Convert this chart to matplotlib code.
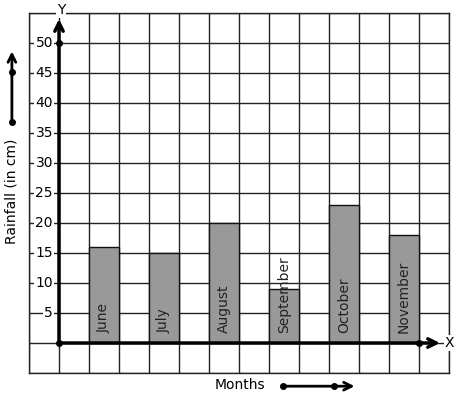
import matplotlib
matplotlib.use("Agg")
import matplotlib.pyplot as plt

# rainfall per month (cm)
months = ["June", "July", "August", "September", "October", "November"]
rainfall = [16, 15, 20, 9, 23, 18]
bar_left = [1, 3, 5, 7, 9, 11]
y_ticks = [5, 10, 15, 20, 25, 30, 35, 40, 45, 50]

fig = plt.figure(figsize=(4.57, 3.99), dpi=100)
ax = fig.add_axes([29 / 457, 26 / 399, 420 / 457, 360 / 399])
ax.set_xlim(-1, 13)
ax.set_ylim(-5, 55)

# square grid
ax.set_xticks(range(-1, 14))
ax.set_yticks(range(-5, 56, 5))
ax.grid(True, color="#222222", linewidth=1)
ax.tick_params(length=0, labelbottom=False, labelleft=False)
for s in ax.spines.values():
    s.set_color("#222222")
    s.set_linewidth(1)

# bars
ax.bar(bar_left, rainfall, width=1, align="edge", color="#999999",
       edgecolor="#111111", linewidth=1, zorder=3)
for x, m in zip(bar_left, months):
    ax.text(x + 0.5, 1.6, m, rotation=90, ha="center", va="bottom",
            fontsize=10, color="#222222", zorder=4)

# y tick labels with white box over grid
for v in y_ticks:
    ax.text(-0.2, v, str(v), ha="right", va="center", fontsize=10, zorder=5,
            bbox=dict(facecolor="white", edgecolor="none", pad=1))

# axes with arrows
ax.annotate("", xy=(0, 54), xytext=(0, 0), zorder=6,
            arrowprops=dict(arrowstyle="->", lw=2.5, color="black", mutation_scale=15,
                            shrinkA=0, shrinkB=0))
ax.annotate("", xy=(12.7, 0), xytext=(0, 0), zorder=6,
            arrowprops=dict(arrowstyle="->", lw=2.5, color="black", mutation_scale=15,
                            shrinkA=0, shrinkB=0))
ax.plot([0, 0, 12], [50, 0, 0], "o", color="black", ms=4, zorder=7)
ax.text(0.07, 55.5, "Y", ha="center", va="center", fontsize=10, zorder=7, clip_on=False,
        bbox=dict(facecolor="white", edgecolor="none", pad=0.5))
ax.text(13.0, 0, "X", ha="center", va="center", fontsize=10, zorder=7, clip_on=False,
        bbox=dict(facecolor="white", edgecolor="none", pad=0.5))

# axis titles with little arrows
ax.text(-1.57, 25.2, "Rainfall (in cm)", rotation=90, ha="center", va="center",
        fontsize=10, clip_on=False)
ax.annotate("", xy=(-1.57, 48.6), xytext=(-1.57, 36.8), annotation_clip=False,
            arrowprops=dict(arrowstyle="->", lw=2, color="black", mutation_scale=14,
                            shrinkA=0, shrinkB=0))
ax.plot([-1.57, -1.57], [36.8, 45.2], "o", color="black", ms=4, clip_on=False)

ax.text(6.03, -7.0, "Months", ha="center", va="center", fontsize=10, clip_on=False)
ax.annotate("", xy=(9.85, -7.2), xytext=(7.47, -7.2), annotation_clip=False,
            arrowprops=dict(arrowstyle="->", lw=2, color="black", mutation_scale=14,
                            shrinkA=0, shrinkB=0))
ax.plot([7.47, 9.17], [-7.2, -7.2], "o", color="black", ms=4, clip_on=False)

fig.savefig("out.png", dpi=100, facecolor="white")
